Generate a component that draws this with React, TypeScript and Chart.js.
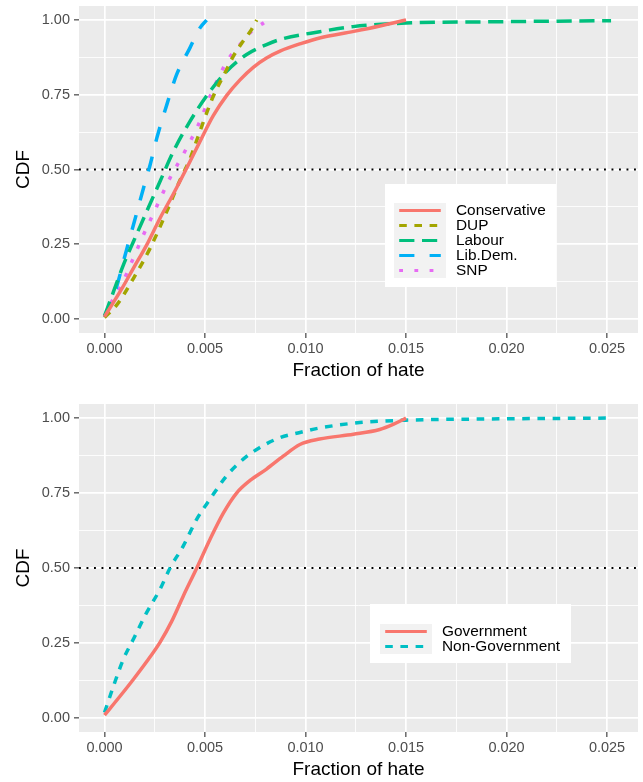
import React, { useEffect, useRef } from "react";
import { Chart, registerables } from "chart.js";

Chart.register(...registerables);

const FONT = "'Liberation Sans', Arial, Helvetica, sans-serif";

// axis ranges and ticks
const X_MIN = -0.00127;
const X_MAX = 0.02654;
const Y_MIN = -0.047;
const Y_MAX = 1.047;
const xMajorTicks = [0, 0.005, 0.01, 0.015, 0.02, 0.025];
const xTickLabels = ["0.000", "0.005", "0.010", "0.015", "0.020", "0.025"];
const xMinorTicks = [0.0025, 0.0075, 0.0125, 0.0175, 0.0225];
const yMajorTicks = [0, 0.25, 0.5, 0.75, 1];
const yTickLabels = ["0.00", "0.25", "0.50", "0.75", "1.00"];
const yMinorTicks = [0.125, 0.375, 0.625, 0.875];
const medianLevel = 0.5;
const xTitle = "Fraction of hate";
const yTitle = "CDF";

// top panel: parties
const conservativeX = [0, 0.00078, 0.00144, 0.0021, 0.00276, 0.00343, 0.00409, 0.00475, 0.00541, 0.00608, 0.00674, 0.0074, 0.00806, 0.00873, 0.0098, 0.0107, 0.0124, 0.0137, 0.015];
const conservativeY = [0.008, 0.092, 0.17, 0.248, 0.337, 0.419, 0.505, 0.594, 0.68, 0.748, 0.8, 0.842, 0.873, 0.896, 0.922, 0.94, 0.962, 0.98, 1.0];

const dupX = [0, 0.00061, 0.00144, 0.00227, 0.0031, 0.00376, 0.00425, 0.00459, 0.00492, 0.00541, 0.00608, 0.00641, 0.0069, 0.00732, 0.00757];
const dupY = [0.005, 0.047, 0.136, 0.237, 0.36, 0.465, 0.535, 0.598, 0.66, 0.745, 0.835, 0.879, 0.93, 0.969, 1.0];

const labourX = [0, 0.00045, 0.00094, 0.00144, 0.0021, 0.00276, 0.00343, 0.00425, 0.00525, 0.00608, 0.00707, 0.00806, 0.00873, 0.0107, 0.01237, 0.015, 0.019, 0.0252];
const labourY = [0.01, 0.092, 0.181, 0.259, 0.36, 0.46, 0.561, 0.661, 0.762, 0.829, 0.885, 0.918, 0.935, 0.961, 0.978, 0.99, 0.994, 0.998];

const libDemX = [0, 0.00053, 0.00103, 0.00144, 0.00194, 0.00227, 0.0026, 0.0031, 0.00359, 0.00425, 0.00475, 0.00508];
const libDemY = [0.008, 0.092, 0.215, 0.315, 0.438, 0.516, 0.605, 0.717, 0.818, 0.907, 0.974, 1.0];

const snpX = [0, 0.00036, 0.00078, 0.00136, 0.00194, 0.0026, 0.00326, 0.004, 0.00467, 0.00525, 0.00591, 0.00632, 0.00682, 0.00732, 0.00793];
const snpY = [0.006, 0.058, 0.105, 0.192, 0.282, 0.377, 0.472, 0.561, 0.65, 0.745, 0.84, 0.885, 0.924, 0.963, 0.991];

// bottom panel: government vs non-government
const governmentX = [0, 0.00078, 0.00144, 0.0021, 0.00276, 0.00334, 0.00392, 0.00459, 0.00525, 0.00591, 0.00657, 0.00724, 0.00806, 0.00889, 0.00972, 0.0107, 0.01238, 0.01369, 0.01436, 0.015];
const governmentY = [0.009, 0.073, 0.129, 0.188, 0.252, 0.322, 0.407, 0.5, 0.596, 0.683, 0.75, 0.792, 0.83, 0.873, 0.912, 0.93, 0.946, 0.962, 0.979, 1.0];

const nonGovernmentX = [0, 0.00045, 0.00094, 0.00144, 0.0021, 0.00276, 0.00326, 0.00392, 0.00459, 0.00525, 0.00608, 0.0069, 0.00773, 0.00873, 0.00972, 0.0107, 0.0127, 0.015, 0.019, 0.0251];
const nonGovernmentY = [0.018, 0.107, 0.196, 0.263, 0.352, 0.429, 0.5, 0.574, 0.663, 0.73, 0.808, 0.863, 0.902, 0.935, 0.952, 0.967, 0.985, 0.993, 0.997, 1.0];

const LINE_W = 3.5;
const U = 3.8; // dash unit

type Series = { label: string; xs: number[]; ys: number[]; color: string; dash: number[] };

const topSeries: Series[] = [
  { label: "Conservative", xs: conservativeX, ys: conservativeY, color: "#F8766D", dash: [] },
  { label: "DUP", xs: dupX, ys: dupY, color: "#A3A500", dash: [2 * U, 2 * U] },
  { label: "Labour", xs: labourX, ys: labourY, color: "#00BF7D", dash: [4 * U, 2 * U] },
  { label: "Lib.Dem.", xs: libDemX, ys: libDemY, color: "#00B0F6", dash: [4 * U, 4 * U] },
  { label: "SNP", xs: snpX, ys: snpY, color: "#E76BF3", dash: [1 * U, 3 * U] },
];

const bottomSeries: Series[] = [
  { label: "Government", xs: governmentX, ys: governmentY, color: "#F8766D", dash: [] },
  { label: "Non-Government", xs: nonGovernmentX, ys: nonGovernmentY, color: "#00BFC4", dash: [2 * U, 2 * U] },
];

const near = (a: number, b: number) => Math.abs(a - b) < 1e-9;
const isIn = (v: number, arr: number[]) => arr.some((m) => near(m, v));

type LegendSpec = {
  box: { x: number; y: number; w: number; h: number };
  keyX: number;
  keyY: number;
  keyW: number;
  rowH: number;
  textX: number;
};

function makeLegendPlugin(series: Series[], spec: LegendSpec) {
  return {
    id: "ggLegend",
    afterDraw(chart: any) {
      const ctx = chart.ctx as CanvasRenderingContext2D;
      ctx.save();
      ctx.fillStyle = "#FFFFFF";
      ctx.fillRect(spec.box.x, spec.box.y, spec.box.w, spec.box.h);
      ctx.fillStyle = "#F2F2F2";
      ctx.fillRect(spec.keyX, spec.keyY, spec.keyW, spec.rowH * series.length);
      series.forEach((s, i) => {
        const cy = spec.keyY + spec.rowH * (i + 0.5);
        ctx.beginPath();
        ctx.setLineDash(s.dash);
        ctx.lineDashOffset = 0;
        ctx.lineCap = "butt";
        ctx.strokeStyle = s.color;
        ctx.lineWidth = LINE_W - 0.3;
        ctx.moveTo(spec.keyX + 0.1 * spec.keyW, cy);
        ctx.lineTo(spec.keyX + 0.9 * spec.keyW, cy);
        ctx.stroke();
        ctx.setLineDash([]);
        ctx.fillStyle = "#000000";
        ctx.font = `15.4px ${FONT}`;
        ctx.textBaseline = "middle";
        ctx.textAlign = "left";
        ctx.fillText(s.label, spec.textX, cy + 0.5);
      });
      ctx.restore();
    },
  };
}

const panelBackground = {
  id: "panelBg",
  beforeDraw(chart: any) {
    const { ctx, chartArea } = chart;
    if (!chartArea) return;
    ctx.save();
    ctx.fillStyle = "#EBEBEB";
    ctx.fillRect(chartArea.left, chartArea.top, chartArea.right - chartArea.left, chartArea.bottom - chartArea.top);
    ctx.restore();
  },
};

type PanelProps = {
  series: Series[];
  height: number;
  padTop: number;
  xAxisHeight: number;
  xTitlePadBottom: number;
  legend: LegendSpec;
};

function Panel({ series, height, padTop, xAxisHeight, xTitlePadBottom, legend }: PanelProps) {
  const ref = useRef<HTMLCanvasElement>(null);
  useEffect(() => {
    const canvas = ref.current;
    if (!canvas) return;
    const datasets: any[] = series.map((s) => ({
      label: s.label,
      data: s.xs.map((x, i) => ({ x, y: s.ys[i] })),
      borderColor: s.color,
      borderWidth: LINE_W,
      borderDash: s.dash,
      borderCapStyle: "butt",
      pointRadius: 0,
      cubicInterpolationMode: "monotone",
      fill: false,
    }));
    datasets.push({
      label: "median",
      data: [
        { x: X_MIN, y: medianLevel },
        { x: X_MAX, y: medianLevel },
      ],
      borderColor: "#000000",
      borderWidth: 1.9,
      borderDash: [1.9, 5.6],
      pointRadius: 0,
      tension: 0,
      fill: false,
    });

    const gridLW = (arr: number[]) => (c: any) => (c.tick && isIn(c.tick.value, arr) ? 1.7 : 0.85);
    const tickCol = (arr: number[]) => (c: any) => (c.tick && isIn(c.tick.value, arr) ? "#333333" : "rgba(0,0,0,0)");

    const chart = new Chart(canvas, {
      type: "line",
      data: { datasets },
      plugins: [panelBackground, makeLegendPlugin(series, legend)],
      options: {
        animation: false,
        responsive: false,
        maintainAspectRatio: false,
        devicePixelRatio: 1,
        layout: { padding: { top: padTop, right: 5, left: 0, bottom: 0 } },
        plugins: { legend: { display: false }, tooltip: { enabled: false } },
        elements: { point: { radius: 0 } },
        scales: {
          x: {
            type: "linear",
            min: X_MIN,
            max: X_MAX,
            afterBuildTicks: (s: any) => {
              s.ticks = [...xMajorTicks, ...xMinorTicks].sort((a, b) => a - b).map((v) => ({ value: v }));
            },
            afterFit: (s: any) => {
              s.height = xAxisHeight;
              s.paddingLeft = 0;
              s.paddingRight = 0;
              s.paddingTop = 0;
              s.paddingBottom = 0;
            },
            border: { display: false },
            grid: {
              color: "#FFFFFF",
              lineWidth: gridLW(xMajorTicks),
              drawTicks: true,
              tickLength: 5,
              tickWidth: 1.1,
              tickColor: tickCol(xMajorTicks),
            },
            ticks: {
              autoSkip: false,
              maxRotation: 0,
              minRotation: 0,
              padding: 2.5,
              color: "#4D4D4D",
              font: { family: FONT, size: 14.5 },
              callback: (v: any) => {
                const i = xMajorTicks.findIndex((m) => near(m, Number(v)));
                return i >= 0 ? xTickLabels[i] : "";
              },
            },
            title: {
              display: true,
              text: xTitle,
              color: "#000000",
              font: { family: FONT, size: 19 },
              padding: { top: 0, bottom: xTitlePadBottom },
            },
          },
          y: {
            type: "linear",
            min: Y_MIN,
            max: Y_MAX,
            afterBuildTicks: (s: any) => {
              s.ticks = [...yMajorTicks, ...yMinorTicks].sort((a, b) => a - b).map((v) => ({ value: v }));
            },
            afterFit: (s: any) => {
              s.width = 79;
              s.paddingLeft = 0;
              s.paddingRight = 0;
              s.paddingTop = 0;
              s.paddingBottom = 0;
            },
            border: { display: false },
            grid: {
              color: "#FFFFFF",
              lineWidth: gridLW(yMajorTicks),
              drawTicks: true,
              tickLength: 5,
              tickWidth: 1.1,
              tickColor: tickCol(yMajorTicks),
            },
            ticks: {
              autoSkip: false,
              padding: 4,
              color: "#4D4D4D",
              font: { family: FONT, size: 14.5 },
              callback: (v: any) => {
                const i = yMajorTicks.findIndex((m) => near(m, Number(v)));
                return i >= 0 ? yTickLabels[i] : "";
              },
            },
            title: {
              display: true,
              text: yTitle,
              color: "#000000",
              font: { family: FONT, size: 19 },
              padding: { top: 12.6, bottom: 0 },
            },
          },
        },
      } as any,
    });
    return () => chart.destroy();
  }, []);
  return <canvas ref={ref} width={643} height={height} style={{ display: "block", width: 643, height }} />;
}

export default function App() {
  return (
    <div style={{ position: "absolute", left: 0, top: 0, width: 643, height: 782, background: "#FFFFFF" }}>
      <Panel
        series={topSeries}
        height={391}
        padTop={6}
        xAxisHeight={58}
        xTitlePadBottom={8.6}
        legend={{ box: { x: 385, y: 184, w: 171, h: 103 }, keyX: 394, keyY: 203, keyW: 52, rowH: 15, textX: 456 }}
      />
      <Panel
        series={bottomSeries}
        height={391}
        padTop={13}
        xAxisHeight={50}
        xTitlePadBottom={0.6}
        legend={{ box: { x: 370, y: 213, w: 201, h: 59 }, keyX: 380, keyY: 233, keyW: 52, rowH: 15, textX: 442 }}
      />
    </div>
  );
}
